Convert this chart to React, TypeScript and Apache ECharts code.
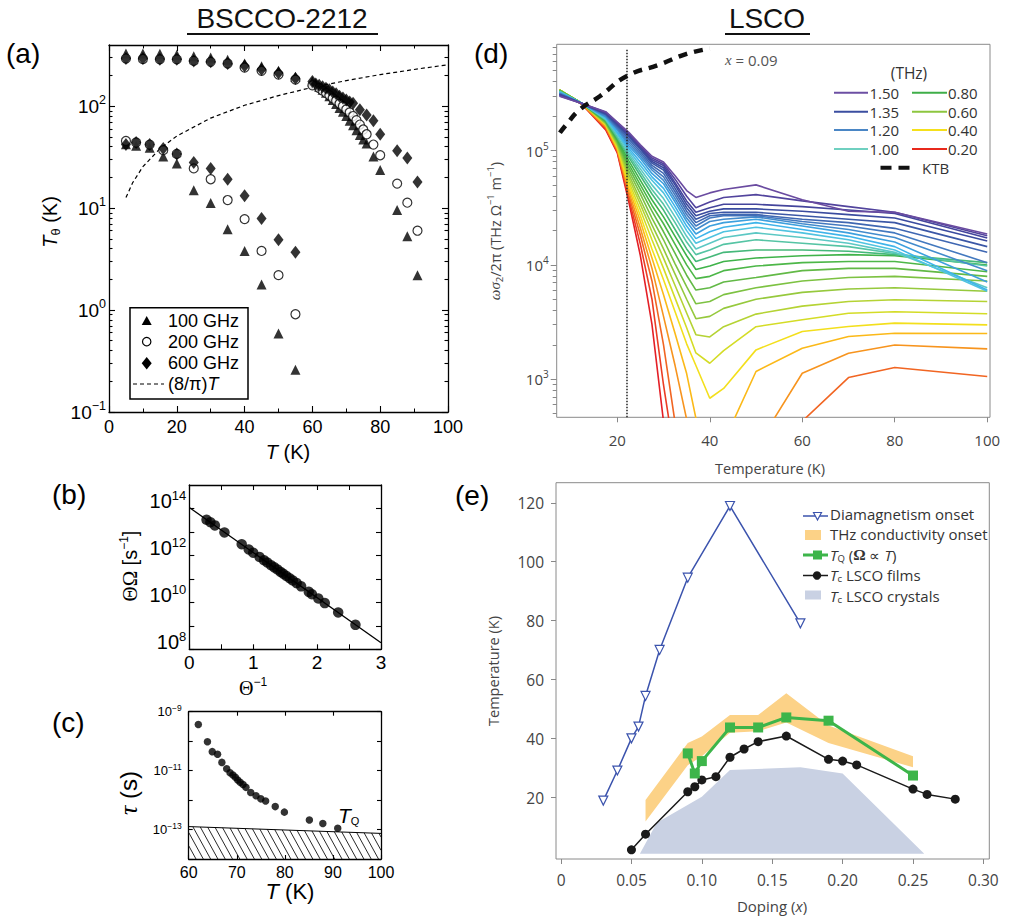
import React, { useEffect, useRef } from "react";
import * as echarts from "echarts";

const ARIAL = '"Liberation Sans", Arial, Helvetica, sans-serif';
const SERIF = '"Liberation Serif", "DejaVu Serif", serif';
const HUM = '"Open Sans", "Noto Sans", sans-serif';

// ---------------- Panel (a): T_theta vs T (BSCCO) ----------------
const A_TRI_UP_T = [5, 10, 15, 20, 25, 30, 35, 40, 45, 50, 55, 60, 61, 62, 63, 64, 65, 66, 67, 68, 69, 70, 71, 72, 73, 74, 75, 76, 78, 80, 85, 88, 91];
const A_TRI_UP_V = [328, 328, 326, 320, 309, 300, 286, 262, 246, 222, 194, 175, 165, 155, 145, 135, 125, 115, 105, 96, 88, 80, 72, 65, 58, 52, 47, 43, 32, 23.6, 9.6, 5.3, 2.2];
const A_TRI_LO_T = [5, 8, 12, 16, 20, 25, 30, 35, 40, 45, 50, 55];
const A_TRI_LO_V = [42.4, 41, 39, 32, 27.4, 15, 11.2, 6.2, 3.8, 1.78, 0.59, 0.26];

const A_CIR_UP_T = [5, 10, 15, 20, 25, 30, 35, 40, 45, 50, 55, 60, 62, 63, 64, 65, 66, 67, 68, 69, 70, 71, 72, 73, 74, 75, 76, 78, 80, 85, 88, 91];
const A_CIR_UP_V = [293, 290, 288, 288, 278, 272, 262, 239, 222, 204, 182, 160, 150, 142, 135, 128, 120, 113, 106, 100, 93, 87, 80, 73, 66, 59, 53, 42, 33, 17.4, 11.3, 6];
const A_CIR_LO_T = [5, 8, 12, 16, 20, 25, 30, 35, 40, 45, 50, 55];
const A_CIR_LO_V = [45.6, 44, 42, 37, 34, 24.5, 19.2, 12, 7.8, 3.8, 2.2, 0.91];

const A_DIA_UP_T = [5, 10, 15, 20, 25, 30, 35, 40, 45, 50, 55, 60, 61, 62, 63, 64, 65, 66, 67, 68, 69, 70, 71, 72, 74, 76, 78, 80, 85, 88, 91];
const A_DIA_UP_V = [293, 293, 288, 288, 278, 272, 262, 247, 229, 212, 187, 175, 165, 160, 155, 150, 145, 138, 132, 125, 120, 115, 110, 107, 92, 82, 72, 53, 36.5, 31, 18];
const A_DIA_LO_T = [5, 8, 12, 16, 20, 25, 30, 35, 40, 45, 50, 55];
const A_DIA_LO_V = [42, 44, 42, 38.5, 34, 28, 24.5, 19.2, 13.2, 7.9, 4.9, 3.7];

const A_LINE_T = [5, 7, 10, 15, 20, 30, 40, 50, 60, 70, 80, 90, 100];
const A_LINE_V = [12.7, 17.8, 25.5, 38.2, 50.9, 76.4, 102, 127, 153, 178, 204, 229, 255];

const A_MAJOR = [0.1, 1, 10, 100];
const A_MINOR = [0.2, 0.3, 0.4, 0.5, 0.6, 0.7, 0.8, 0.9, 2, 3, 4, 5, 6, 7, 8, 9, 20, 30, 40, 50, 60, 70, 80, 90, 200, 300];

// ---------------- Panel (b): Theta*Omega vs 1/Theta ----------------
const B_X = [0.27, 0.33, 0.40, 0.55, 0.82, 0.93, 1.00, 1.10, 1.17, 1.22, 1.28, 1.33, 1.38, 1.43, 1.47, 1.52, 1.57, 1.62, 1.68, 1.75, 1.87, 1.92, 2.02, 2.12, 2.33, 2.60];
const B_Y = [3.3e13, 2.6e13, 1.9e13, 9.5e12, 3.0e12, 1.8e12, 1.3e12, 8.5e11, 6.2e11, 5.0e11, 3.8e11, 3.1e11, 2.5e11, 1.95e11, 1.66e11, 1.32e11, 1.07e11, 8.5e10, 6.6e10, 4.8e10, 2.8e10, 2.2e10, 1.45e10, 9.3e9, 3.7e9, 1.1e9];
const B_FIT_X = [0, 3];
const B_FIT_Y = [1.1e14, 1.9e8];
const B_TICKS = [1e8, 1e9, 1e10, 1e11, 1e12, 1e13, 1e14, 1e15];
const B_LABELS = [1e8, 1e10, 1e12, 1e14];

// ---------------- Panel (c): tau vs T ----------------
const C_T = [62.0, 63.9, 64.9, 66.0, 66.9, 67.9, 68.6, 69.2, 69.7, 70.2, 70.7, 71.3, 71.9, 72.9, 74.0, 75.0, 76.0, 78.0, 79.9, 85.1, 87.9, 91.0];
const C_TAU = [3.7e-10, 9.6e-11, 4.4e-11, 3.6e-11, 1.9e-11, 1.15e-11, 8.5e-12, 7.1e-12, 5.9e-12, 4.8e-12, 4.0e-12, 3.4e-12, 2.7e-12, 1.8e-12, 1.4e-12, 1.1e-12, 9.3e-13, 6.0e-13, 3.9e-13, 2.1e-13, 1.6e-13, 1.1e-13];
const C_LIMIT_T = [60, 100];
const C_LIMIT_TAU = [1.26e-13, 7.4e-14];
const C_TICKS = [1e-14, 1e-13, 1e-12, 1e-11, 1e-10, 1e-9];
const C_LABELS = [1e-13, 1e-11, 1e-9];

// ---------------- Panel (d): LSCO omega*sigma2/2pi vs T ----------------
// temperatures (K) and log10(omega sigma2 / 2 pi) for each frequency curve
const D_T = [7.5, 12.5, 17.5, 20, 22.5, 25, 27.5, 30, 32.5, 35, 37, 40, 43, 50, 60, 70, 80, 100];
const L020 = [5.53, 5.40, 5.18, 4.98, 4.55, 4.08, 3.48, 2.63, 2.0];
const L025 = [5.53, 5.40, 5.19, 4.99, 4.58, 4.18, 3.70, 2.95, 2.3, 1.8];
const L030 = [5.53, 5.40, 5.20, 5.00, 4.61, 4.26, 3.86, 3.30, 2.62, 2.2, 1.9, 1.7, 1.6, 1.9, 2.633, 3.015, 3.103, 3.024];
const L035 = [5.53, 5.40, 5.21, 5.01, 4.64, 4.32, 3.97, 3.55, 3.12, 2.65, 2.35, 2.0, 1.9, 2.4, 3.053, 3.228, 3.30, 3.266];
const L040 = [5.53, 5.41, 5.22, 5.02, 4.67, 4.38, 4.06, 3.74, 3.40, 3.05, 2.66, 2.35, 2.45, 3.068, 3.272, 3.374, 3.403, 3.40];
const L045 = [5.53, 5.41, 5.225, 5.03, 4.70, 4.43, 4.14, 3.87, 3.59, 3.31, 3.12, 2.834, 2.92, 3.257, 3.418, 3.462, 3.491, 3.476];
const L050 = [5.53, 5.41, 5.23, 5.04, 4.73, 4.48, 4.22, 3.97, 3.71, 3.45, 3.23, 3.14, 3.25, 3.46, 3.52, 3.578, 3.59, 3.573];
const L055 = [5.53, 5.41, 5.235, 5.05, 4.76, 4.53, 4.29, 4.06, 3.82, 3.58, 3.39, 3.37, 3.46, 3.57, 3.64, 3.68, 3.695, 3.68];
const L060 = [5.53, 5.41, 5.24, 5.06, 4.79, 4.57, 4.35, 4.14, 3.92, 3.70, 3.53, 3.55, 3.62, 3.70, 3.76, 3.79, 3.80, 3.77];
const L065 = [5.53, 5.41, 5.245, 5.07, 4.82, 4.62, 4.41, 4.22, 4.01, 3.81, 3.66, 3.68, 3.74, 3.80, 3.86, 3.89, 3.90, 3.86];
const L070 = [5.525, 5.41, 5.25, 5.08, 4.85, 4.66, 4.47, 4.29, 4.10, 3.91, 3.78, 3.80, 3.85, 3.89, 3.95, 3.97, 3.97, 3.90];
const L075 = [5.525, 5.41, 5.255, 5.09, 4.88, 4.70, 4.52, 4.36, 4.18, 4.00, 3.88, 3.90, 3.95, 3.99, 4.02, 4.03, 4.03, 3.94];
const L080 = [5.52, 5.41, 5.26, 5.10, 4.91, 4.74, 4.57, 4.42, 4.25, 4.08, 3.96, 3.99, 4.03, 4.06, 4.08, 4.09, 4.08, 4.00];
const L085 = [5.52, 5.41, 5.265, 5.11, 4.94, 4.78, 4.62, 4.48, 4.31, 4.14, 4.03, 4.07, 4.11, 4.13, 4.13, 4.12, 4.09, 4.02];
const L090 = [5.52, 5.41, 5.27, 5.12, 4.96, 4.81, 4.66, 4.53, 4.37, 4.20, 4.09, 4.13, 4.18, 4.22, 4.19, 4.16, 4.10, 3.99];
const L095 = [5.515, 5.41, 5.275, 5.14, 4.98, 4.84, 4.70, 4.58, 4.42, 4.25, 4.14, 4.19, 4.24, 4.28, 4.24, 4.19, 4.11, 3.80];
const L100 = [5.51, 5.41, 5.28, 5.15, 5.00, 4.87, 4.74, 4.63, 4.47, 4.30, 4.19, 4.24, 4.29, 4.33, 4.28, 4.22, 4.13, 3.77];
const L105 = [5.51, 5.41, 5.29, 5.16, 5.02, 4.90, 4.77, 4.67, 4.51, 4.34, 4.23, 4.29, 4.33, 4.37, 4.31, 4.25, 4.16, 3.78];
const L110 = [5.505, 5.41, 5.295, 5.18, 5.04, 4.93, 4.80, 4.71, 4.55, 4.38, 4.27, 4.34, 4.37, 4.40, 4.34, 4.28, 4.20, 3.85];
const L115 = [5.50, 5.41, 5.30, 5.19, 5.06, 4.95, 4.83, 4.74, 4.58, 4.41, 4.31, 4.38, 4.40, 4.42, 4.36, 4.31, 4.24, 3.95];
const L120 = [5.50, 5.41, 5.31, 5.20, 5.08, 4.97, 4.85, 4.77, 4.61, 4.44, 4.34, 4.41, 4.43, 4.43, 4.38, 4.34, 4.28, 4.02];
const L125 = [5.495, 5.41, 5.315, 5.21, 5.10, 4.99, 4.87, 4.80, 4.64, 4.47, 4.37, 4.43, 4.44, 4.44, 4.40, 4.37, 4.32, 4.11];
const L130 = [5.49, 5.41, 5.32, 5.22, 5.12, 5.01, 4.89, 4.83, 4.67, 4.50, 4.40, 4.45, 4.46, 4.46, 4.43, 4.40, 4.37, 4.16];
const L135 = [5.49, 5.41, 5.325, 5.23, 5.13, 5.02, 4.905, 4.85, 4.70, 4.53, 4.43, 4.47, 4.49, 4.49, 4.47, 4.44, 4.41, 4.21];
const L140 = [5.485, 5.41, 5.33, 5.24, 5.14, 5.03, 4.92, 4.87, 4.72, 4.56, 4.46, 4.50, 4.53, 4.53, 4.51, 4.48, 4.45, 4.235];
const L145 = [5.48, 5.41, 5.335, 5.245, 5.15, 5.04, 4.935, 4.885, 4.75, 4.60, 4.50, 4.55, 4.59, 4.615, 4.56, 4.51, 4.46, 4.256];
const L150 = [5.475, 5.41, 5.34, 5.25, 5.16, 5.05, 4.95, 4.90, 4.78, 4.65, 4.59, 4.63, 4.66, 4.70, 4.57, 4.47, 4.46, 4.27];
const D_CURVES = [L020, L025, L030, L035, L040, L045, L050, L055, L060, L065, L070, L075, L080, L085, L090, L095, L100, L105, L110, L115, L120, L125, L130, L135, L140, L145, L150];
const D_FREQ = ["0.20", "0.25", "0.30", "0.35", "0.40", "0.45", "0.50", "0.55", "0.60", "0.65", "0.70", "0.75", "0.80", "0.85", "0.90", "0.95", "1.00", "1.05", "1.10", "1.15", "1.20", "1.25", "1.30", "1.35", "1.40", "1.45", "1.50"];
const D_COLORS = ["#e41f26", "#eb3c24", "#f16522", "#f7941e", "#fbb918", "#f3df1c", "#d4dc26", "#b5d334", "#96c93d", "#7dc242", "#62b946", "#4db748", "#3fb34a", "#45b87a", "#55c4a4", "#5cc8c4", "#4fc3e0", "#3fb4ea", "#3da0de", "#428bcc", "#4379bf", "#3f67b2", "#3b57a6", "#3a4b9f", "#44459c", "#52449d", "#6a4ba0"];
const D_KTB_T = [7.6, 9, 11.9, 16.3, 22, 29.2, 35, 40];
const D_KTB_V = [1.43e5, 1.69e5, 2.28e5, 3.0e5, 4.47e5, 5.66e5, 7.0e5, 7.8e5];
const D_DOT_T = [22.1, 22.1];
const D_DOT_V = [465, 7.6e5];
const D_MAJOR = [1e3, 1e4, 1e5];
const D_MINOR = [500, 600, 700, 800, 900, 2e3, 3e3, 4e3, 5e3, 6e3, 7e3, 8e3, 9e3, 2e4, 3e4, 4e4, 5e4, 6e4, 7e4, 8e4, 9e4, 2e5, 3e5, 4e5, 5e5, 6e5, 7e5, 8e5];
const D_XTICKS = [20, 40, 60, 80, 100];
const D_LEG_L = ["1.50", "1.35", "1.20", "1.00"];
const D_LEG_L_C = ["#6c4fa3", "#3b4ea0", "#4a86c5", "#6fd0c0"];
const D_LEG_R = ["0.80", "0.60", "0.40", "0.20"];
const D_LEG_R_C = ["#3fae49", "#8dc63f", "#f5e01b", "#e8291c"];

// ---------------- Panel (e): phase diagram ----------------
const E_DIA_X = [0.03, 0.04, 0.05, 0.055, 0.06, 0.07, 0.09, 0.12, 0.17];
const E_DIA_T = [19.0, 29.2, 40.1, 44.1, 54.5, 70.1, 94.6, 118.9, 79.1];
const E_TQ_X = [0.09, 0.095, 0.10, 0.12, 0.14, 0.16, 0.19, 0.25];
const E_TQ_T = [35.0, 28.2, 32.4, 43.8, 43.8, 47.2, 46.1, 27.5];
const E_FILM_X = [0.05, 0.06, 0.09, 0.095, 0.10, 0.11, 0.12, 0.13, 0.14, 0.16, 0.19, 0.20, 0.21, 0.25, 0.26, 0.28];
const E_FILM_T = [2.3, 7.6, 22.0, 23.7, 26.0, 27.1, 33.7, 36.5, 39.0, 40.9, 33.0, 32.4, 31.1, 22.9, 21.1, 19.5];
const E_BAND_X = [0.06, 0.09, 0.10, 0.12, 0.14, 0.16, 0.19, 0.25];
const E_BAND_HI = [19.2, 38.5, 40.7, 48.0, 48.0, 55.4, 44.5, 34.0];
const E_BAND_LO = [11.9, 31.0, 34.0, 42.0, 42.5, 45.5, 38.5, 30.3];
const E_CRYS_X = [0.056, 0.068, 0.10, 0.12, 0.17, 0.20, 0.258];
const E_CRYS_T = [1.0, 11.5, 20.3, 29.4, 30.3, 28.2, 1.0];
const E_XTICKS = [0, 0.05, 0.1, 0.15, 0.2, 0.25, 0.3];
const E_YTICKS = [20, 40, 60, 80, 100, 120];

// ---------------- helpers ----------------
const zip = (xs: number[], ys: number[]) => xs.map((x, i) => [x, ys[i]]);
const powLabel = (v: number) => {
  const e = Math.round(Math.log10(v));
  return `{b|10}{s|${e < 0 ? "\u2212" + -e : e}}`;
};
const powRich = (bs: number, ss: number, raise: number, fam: string, color: string) => ({
  b: { fontSize: bs, fontFamily: fam, color, verticalAlign: "middle" },
  s: { fontSize: ss, fontFamily: fam, color, verticalAlign: "middle", padding: [0, 0, raise * 2, 0] },
});
const BL = { show: true, onZero: false, lineStyle: { color: "#000", width: 1.3 } };
const NOLINE = { show: false, onZero: false };
const inTick = (len: number, extra: any = {}) => ({ show: true, inside: true, length: len, lineStyle: { color: "#000", width: 1.1 }, ...extra });
const outTick = (len: number, extra: any = {}) => ({ show: true, inside: false, length: len, lineStyle: { color: "#888", width: 1 }, ...extra });
const NOLAB = { show: false };
const NOSPLIT = { show: false };

const txt = (x: number, y: number, text: string, size: number, fam: string, extra: any = {}, rich: any = undefined, rotation = 0) => ({
  type: "text",
  x,
  y,
  rotation,
  silent: true,
  style: { text, fontSize: size, fontFamily: fam, lineHeight: Math.round(size * 1.05), fill: extra.fill || "#000", align: extra.align || "left", verticalAlign: "middle", fontStyle: extra.fontStyle || "normal", rich },
});

function buildOption(): any {
  // ---- axes ----
  const xAxis: any[] = [
    // 0: (a) bottom
    { gridIndex: 0, type: "value", min: 0, max: 100, interval: 20, position: "bottom", axisLine: BL, axisTick: inTick(6), minorTick: { show: true, splitNumber: 2, length: 3.5, lineStyle: { color: "#000", width: 1 } }, splitLine: NOSPLIT, minorSplitLine: NOSPLIT, axisLabel: { fontFamily: ARIAL, fontSize: 18, lineHeight: 18, color: "#000", margin: 6 } },
    // 1: (a) top
    { gridIndex: 0, type: "value", min: 0, max: 100, interval: 20, position: "top", axisLine: BL, axisTick: inTick(6), minorTick: { show: true, splitNumber: 2, length: 3.5, lineStyle: { color: "#000", width: 1 } }, splitLine: NOSPLIT, minorSplitLine: NOSPLIT, axisLabel: NOLAB },
    // 2: (b) bottom
    { gridIndex: 1, type: "value", min: 0, max: 3, interval: 1, position: "bottom", axisLine: BL, axisTick: inTick(5), minorTick: { show: true, splitNumber: 2, length: 5, lineStyle: { color: "#000", width: 1 } }, splitLine: NOSPLIT, minorSplitLine: NOSPLIT, axisLabel: { fontFamily: ARIAL, fontSize: 19, lineHeight: 19, color: "#000", margin: 4 } },
    // 3: (b) top
    { gridIndex: 1, type: "value", min: 0, max: 3, interval: 1, position: "top", axisLine: BL, axisTick: inTick(5), minorTick: { show: true, splitNumber: 2, length: 5, lineStyle: { color: "#000", width: 1 } }, splitLine: NOSPLIT, minorSplitLine: NOSPLIT, axisLabel: NOLAB },
    // 4: (c) bottom
    { gridIndex: 2, type: "value", min: 60, max: 100, interval: 10, position: "bottom", axisLine: BL, axisTick: inTick(4), splitLine: NOSPLIT, axisLabel: { fontFamily: ARIAL, fontSize: 16, lineHeight: 16, color: "#000", margin: 5 } },
    // 5: (c) top
    { gridIndex: 2, type: "value", min: 60, max: 100, interval: 10, position: "top", axisLine: BL, axisTick: inTick(4), splitLine: NOSPLIT, axisLabel: NOLAB },
    // 6: (d) bottom
    { gridIndex: 3, type: "value", min: 6.9, max: 100.6, position: "bottom", axisLine: NOLINE, axisTick: outTick(5, { customValues: D_XTICKS }), splitLine: NOSPLIT, axisLabel: { customValues: D_XTICKS, fontFamily: HUM, fontSize: 15, lineHeight: 16, color: "#444", margin: 15 } },
    // 7: (e) bottom
    { gridIndex: 4, type: "value", min: -0.0036, max: 0.3042, position: "bottom", axisLine: NOLINE, axisTick: outTick(5, { customValues: E_XTICKS }), splitLine: NOSPLIT, axisLabel: { customValues: E_XTICKS, formatter: (v: number) => (Math.abs(v) < 1e-9 ? "0" : v.toFixed(2)), fontFamily: HUM, fontSize: 15.5, lineHeight: 16, color: "#444", margin: 13 } },
  ];

  const yAxis: any[] = [
    // 0: (a) left major
    { gridIndex: 0, type: "log", logBase: 10, min: 0.1, max: 398, position: "left", axisLine: BL, axisTick: inTick(6, { customValues: A_MAJOR }), splitLine: NOSPLIT, axisLabel: { customValues: A_MAJOR, formatter: powLabel, rich: powRich(19, 12.5, 6, ARIAL, "#000"), margin: 3 } },
    // 1: (a) left minor
    { gridIndex: 0, type: "log", logBase: 10, min: 0.1, max: 398, position: "left", axisLine: NOLINE, axisTick: inTick(3.5, { customValues: A_MINOR }), splitLine: NOSPLIT, axisLabel: NOLAB },
    // 2: (a) right major
    { gridIndex: 0, type: "log", logBase: 10, min: 0.1, max: 398, position: "right", axisLine: BL, axisTick: inTick(6, { customValues: A_MAJOR }), splitLine: NOSPLIT, axisLabel: NOLAB },
    // 3: (a) right minor
    { gridIndex: 0, type: "log", logBase: 10, min: 0.1, max: 398, position: "right", axisLine: NOLINE, axisTick: inTick(3.5, { customValues: A_MINOR }), splitLine: NOSPLIT, axisLabel: NOLAB },
    // 4: (b) left
    { gridIndex: 1, type: "log", logBase: 10, min: 1e8, max: 1e15, position: "left", axisLine: BL, axisTick: inTick(5, { customValues: B_TICKS }), splitLine: NOSPLIT, axisLabel: { customValues: B_LABELS, formatter: powLabel, rich: powRich(20, 13, 6, ARIAL, "#000"), margin: 3, padding: [0, 0, 14, 0] } },
    // 5: (b) right
    { gridIndex: 1, type: "log", logBase: 10, min: 1e8, max: 1e15, position: "right", axisLine: BL, axisTick: inTick(5, { customValues: B_TICKS }), splitLine: NOSPLIT, axisLabel: NOLAB },
    // 6: (c) left
    { gridIndex: 2, type: "log", logBase: 10, min: 1e-14, max: 1e-9, position: "left", axisLine: BL, axisTick: inTick(4, { customValues: C_TICKS }), splitLine: NOSPLIT, axisLabel: { customValues: C_LABELS, formatter: powLabel, rich: powRich(13, 8.5, 4, ARIAL, "#000"), margin: 7 } },
    // 7: (c) right
    { gridIndex: 2, type: "log", logBase: 10, min: 1e-14, max: 1e-9, position: "right", axisLine: BL, axisTick: inTick(4, { customValues: C_TICKS }), splitLine: NOSPLIT, axisLabel: NOLAB },
    // 8: (d) left major
    { gridIndex: 3, type: "log", logBase: 10, min: 465, max: 8.5e5, position: "left", axisLine: NOLINE, axisTick: outTick(6, { customValues: D_MAJOR }), splitLine: NOSPLIT, axisLabel: { customValues: D_MAJOR, formatter: powLabel, rich: powRich(15, 10, 5, HUM, "#444"), margin: 8 } },
    // 9: (d) left minor
    { gridIndex: 3, type: "log", logBase: 10, min: 465, max: 8.5e5, position: "left", axisLine: NOLINE, axisTick: outTick(4, { customValues: D_MINOR }), splitLine: NOSPLIT, axisLabel: NOLAB },
    // 10: (e) left
    { gridIndex: 4, type: "value", min: -0.8, max: 126.8, position: "left", axisLine: NOLINE, axisTick: outTick(5, { customValues: E_YTICKS }), splitLine: NOSPLIT, axisLabel: { customValues: E_YTICKS, fontFamily: HUM, fontSize: 15.5, color: "#444", margin: 12 } },
  ];

  const grid = [
    { left: 109, top: 45, width: 339, height: 367 },
    { left: 189.3, top: 485, width: 191.7, height: 164.3 },
    { left: 188.7, top: 711.7, width: 192.3, height: 147.3 },
    { left: 556.7, top: 44.3, width: 433.3, height: 373, show: true, borderColor: "#8a8a8a", borderWidth: 1 },
    { left: 556, top: 482.7, width: 433.3, height: 376.3, show: true, borderColor: "#8a8a8a", borderWidth: 1 },
  ];

  const series: any[] = [];

  // ----- (a) -----
  series.push({ type: "line", name: "(8/π)T", xAxisIndex: 0, yAxisIndex: 0, data: zip(A_LINE_T, A_LINE_V), symbol: "none", smooth: false, lineStyle: { color: "#000", width: 1.2, type: [4, 3] }, z: 2 });
  series.push({ type: "scatter", name: "100 GHz", xAxisIndex: 0, yAxisIndex: 0, data: zip(A_TRI_UP_T, A_TRI_UP_V).concat(zip(A_TRI_LO_T, A_TRI_LO_V)), symbol: "triangle", symbolSize: 10, itemStyle: { color: "#000" }, z: 3 });
  series.push({ type: "scatter", name: "200 GHz", xAxisIndex: 0, yAxisIndex: 0, data: zip(A_CIR_UP_T, A_CIR_UP_V).concat(zip(A_CIR_LO_T, A_CIR_LO_V)), symbol: "circle", symbolSize: 9, itemStyle: { color: "#fff", borderColor: "#000", borderWidth: 1.2 }, z: 4 });
  series.push({ type: "scatter", name: "600 GHz", xAxisIndex: 0, yAxisIndex: 0, data: zip(A_DIA_UP_T, A_DIA_UP_V).concat(zip(A_DIA_LO_T, A_DIA_LO_V)), symbol: "diamond", symbolSize: [10, 13], itemStyle: { color: "#000" }, z: 5 });

  // ----- (b) -----
  series.push({ type: "line", name: "fit", xAxisIndex: 2, yAxisIndex: 4, data: zip(B_FIT_X, B_FIT_Y), symbol: "none", lineStyle: { color: "#000", width: 1.3 }, z: 2 });
  series.push({ type: "scatter", name: "ΘΩ", xAxisIndex: 2, yAxisIndex: 4, data: zip(B_X, B_Y), symbol: "circle", symbolSize: 10.5, itemStyle: { color: "#000" }, z: 3 });

  // ----- (c) -----
  series.push({
    type: "custom",
    name: "hatch",
    xAxisIndex: 4,
    yAxisIndex: 6,
    silent: true,
    data: [[C_LIMIT_T[0], C_LIMIT_TAU[0]]],
    z: 1,
    renderItem: (_p: any, api: any) => {
      const p0 = api.coord([C_LIMIT_T[0], C_LIMIT_TAU[0]]);
      const p1 = api.coord([C_LIMIT_T[1], C_LIMIT_TAU[1]]);
      const yb = api.coord([C_LIMIT_T[0], 1e-14])[1];
      const left = p0[0], right = p1[0];
      const slope = (p1[1] - p0[1]) / (p1[0] - p0[0]);
      const k = 0.55, step = 7.3;
      const children: any[] = [];
      for (let c = left - k * yb - step; c <= right - k * p0[1] + step; c += step) {
        let yt = (p0[1] + (c - p0[0]) * slope) / (1 - k * slope);
        let xt = c + k * yt;
        let yB = yb, xB = c + k * yb;
        if (xt < left) { xt = left; yt = (left - c) / k; }
        if (xB > right) { xB = right; yB = (right - c) / k; }
        if (yt >= yB || xt > right || xB < left) continue;
        children.push({ type: "line", shape: { x1: xt, y1: yt, x2: xB, y2: yB }, style: { stroke: "#111", lineWidth: 0.9 } });
      }
      return { type: "group", children };
    },
  });
  series.push({ type: "line", name: "limit", xAxisIndex: 4, yAxisIndex: 6, data: zip(C_LIMIT_T, C_LIMIT_TAU), symbol: "none", lineStyle: { color: "#000", width: 1 }, z: 2 });
  series.push({ type: "scatter", name: "τ", xAxisIndex: 4, yAxisIndex: 6, data: zip(C_T, C_TAU), symbol: "circle", symbolSize: 7.5, itemStyle: { color: "#000" }, z: 3 });

  // ----- (d) -----
  D_CURVES.forEach((arr, k) => {
    series.push({
      type: "line",
      name: D_FREQ[k] + " THz",
      xAxisIndex: 6,
      yAxisIndex: 8,
      data: arr.map((e, i) => [D_T[i], Math.pow(10, e)]),
      symbol: "none",
      smooth: false,
      lineStyle: { color: D_COLORS[k], width: 1.6 },
      z: 2,
    });
  });
  series.push({ type: "line", name: "dotted", xAxisIndex: 6, yAxisIndex: 8, data: zip(D_DOT_T, D_DOT_V), symbol: "none", lineStyle: { color: "#222", width: 1.5, type: [1.5, 1.5] }, z: 3 });
  series.push({ type: "line", name: "KTB", xAxisIndex: 6, yAxisIndex: 8, data: zip(D_KTB_T, D_KTB_V), symbol: "none", smooth: true, lineStyle: { color: "#111", width: 4.5, type: [9, 7], cap: "butt" }, z: 4 });

  // ----- (e) -----
  series.push({
    type: "custom", name: "Tc LSCO crystals", xAxisIndex: 7, yAxisIndex: 10, silent: true, data: [[E_CRYS_X[0], E_CRYS_T[0]]], z: 1,
    renderItem: (_p: any, api: any) => ({ type: "polygon", shape: { points: E_CRYS_X.map((x, i) => api.coord([x, E_CRYS_T[i]])) }, style: { fill: "#c9d1e3" } }),
  });
  series.push({
    type: "custom", name: "THz conductivity onset", xAxisIndex: 7, yAxisIndex: 10, silent: true, data: [[E_BAND_X[0], E_BAND_HI[0]]], z: 2,
    renderItem: (_p: any, api: any) => {
      const pts: any[] = E_BAND_X.map((x, i) => api.coord([x, E_BAND_HI[i]]));
      for (let i = E_BAND_X.length - 1; i >= 0; i--) pts.push(api.coord([E_BAND_X[i], E_BAND_LO[i]]));
      return { type: "polygon", shape: { points: pts }, style: { fill: "#fcd287" } };
    },
  });
  series.push({ type: "line", name: "Tc LSCO films", xAxisIndex: 7, yAxisIndex: 10, data: zip(E_FILM_X, E_FILM_T), symbol: "circle", symbolSize: 9, itemStyle: { color: "#1a1a1a" }, lineStyle: { color: "#1a1a1a", width: 1.5 }, z: 3 });
  series.push({ type: "line", name: "TQ", xAxisIndex: 7, yAxisIndex: 10, data: zip(E_TQ_X, E_TQ_T), symbol: "rect", symbolSize: 10, itemStyle: { color: "#3db54a" }, lineStyle: { color: "#3db54a", width: 3 }, z: 4 });
  series.push({ type: "line", name: "Diamagnetism onset", xAxisIndex: 7, yAxisIndex: 10, data: zip(E_DIA_X, E_DIA_T), symbol: "triangle", symbolRotate: 180, symbolSize: 9, itemStyle: { color: "#fff", borderColor: "#3b53ad", borderWidth: 1.2 }, lineStyle: { color: "#3b53ad", width: 1.5 }, z: 5 });

  // ---- graphic: titles, axis names, legends ----
  const g: any[] = [];
  g.push(txt(282, 18, "BSCCO-2212", 28, ARIAL, { align: "center", fill: "#111" }));
  g.push({ type: "line", silent: true, shape: { x1: 187, y1: 34, x2: 378, y2: 34 }, style: { stroke: "#111", lineWidth: 2 } });
  g.push(txt(767, 18, "LSCO", 28, ARIAL, { align: "center", fill: "#111" }));
  g.push({ type: "line", silent: true, shape: { x1: 725, y1: 34, x2: 810, y2: 34 }, style: { stroke: "#111", lineWidth: 2 } });

  g.push(txt(6, 53, "(a)", 28, ARIAL));
  g.push(txt(52, 494, "(b)", 28, ARIAL));
  g.push(txt(52, 722, "(c)", 28, ARIAL));
  g.push(txt(474, 53, "(d)", 28, ARIAL));
  g.push(txt(455, 495, "(e)", 28, ARIAL));

  const itA = (s: number) => ({ i: { fontStyle: "italic", fontSize: s, fontFamily: ARIAL, fill: "#000" } });
  // (a) axis titles
  g.push(txt(288, 452, "{i|T} (K)", 20, ARIAL, { align: "center" }, itA(20)));
  g.push(txt(50, 222, "{i|T}{sub|θ} (K)", 20, ARIAL, { align: "center" }, { ...itA(20), sub: { fontSize: 13, fontFamily: ARIAL, fill: "#000", padding: [10, 0, 0, 0] } }, Math.PI / 2));
  // (a) legend
  g.push({ type: "rect", silent: true, shape: { x: 130, y: 307.7, width: 118, height: 91.3 }, style: { fill: "#fff", stroke: "#000", lineWidth: 1.5 } });
  g.push({ type: "polygon", silent: true, shape: { points: [[141.7, 325], [151.7, 325], [146.7, 316]] }, style: { fill: "#000" } });
  g.push({ type: "circle", silent: true, shape: { cx: 146.7, cy: 341.7, r: 4.2 }, style: { fill: "#fff", stroke: "#000", lineWidth: 1.2 } });
  g.push({ type: "polygon", silent: true, shape: { points: [[146.7, 357], [151.7, 363.3], [146.7, 369.6], [141.7, 363.3]] }, style: { fill: "#000" } });
  g.push({ type: "line", silent: true, shape: { x1: 133, y1: 384, x2: 164, y2: 384 }, style: { stroke: "#000", lineWidth: 1.2, lineDash: [4, 3] } });
  g.push(txt(168, 321, "100 GHz", 18, ARIAL));
  g.push(txt(168, 342, "200 GHz", 18, ARIAL));
  g.push(txt(168, 363, "600 GHz", 18, ARIAL));
  g.push(txt(168, 384, "(8/π){i|T}", 18, ARIAL, {}, itA(18)));

  // (b) axis titles
  g.push(txt(253, 688, "Θ{s|−1}", 20, SERIF, { align: "center" }, { s: { fontSize: 12, fontFamily: ARIAL, fill: "#000", padding: [0, 0, 12, 0] } }));
  g.push(txt(130, 566, "ΘΩ {a|[s}{s|−1}{a|]}", 21, SERIF, { align: "center" }, { a: { fontSize: 20, fontFamily: ARIAL, fill: "#000" }, s: { fontSize: 12, fontFamily: ARIAL, fill: "#000", padding: [0, 0, 12, 0] } }, Math.PI / 2));

  // (c) axis titles and T_Q label
  g.push(txt(290, 891, "{i|T} (K)", 22, ARIAL, { align: "center" }, itA(22)));
  g.push(txt(128, 793, "{g|τ} (s)", 24, ARIAL, { align: "center" }, { g: { fontStyle: "italic", fontSize: 26, fontFamily: SERIF, fill: "#000" } }, Math.PI / 2));
  g.push(txt(338, 815, "{i|T}{sub|Q}", 20, ARIAL, {}, { ...itA(21), sub: { fontSize: 11, fontFamily: ARIAL, fill: "#000", padding: [12, 0, 0, 0] } }));

  // (d) axis titles, annotation and legend
  const G4 = "#444";
  g.push(txt(770, 468, "Temperature (K)", 14.5, HUM, { align: "center", fill: G4 }));
  g.push(
    txt(495, 231, "{i|ωσ}{sub|2}/2π (THz Ω{sup|−1} m{sup|−1})", 14.5, HUM, { align: "center", fill: G4 }, {
      i: { fontStyle: "italic", fontSize: 15, fontFamily: SERIF, fill: G4 },
      sub: { fontSize: 9.5, fontFamily: HUM, fill: G4, padding: [8, 0, 0, 0] },
      sup: { fontSize: 9.5, fontFamily: HUM, fill: G4, padding: [0, 0, 10, 0] },
    }, Math.PI / 2)
  );
  g.push(txt(725, 60, "{i|x} = 0.09", 15, HUM, { fill: "#555" }, { i: { fontStyle: "italic", fontSize: 15, fontFamily: SERIF, fill: "#555" } }));
  g.push(txt(909, 73, "(THz)", 15.5, HUM, { align: "center", fill: "#333" }));
  const rowsY = [92.7, 111.7, 130, 149];
  rowsY.forEach((y, i) => {
    g.push({ type: "line", silent: true, shape: { x1: 834, y1: y, x2: 868, y2: y }, style: { stroke: D_LEG_L_C[i], lineWidth: 2 } });
    g.push(txt(869.5, y, D_LEG_L[i], 15, HUM, { fill: "#333" }));
    g.push({ type: "line", silent: true, shape: { x1: 912, y1: y, x2: 947, y2: y }, style: { stroke: D_LEG_R_C[i], lineWidth: 2 } });
    g.push(txt(948, y, D_LEG_R[i], 15, HUM, { fill: "#333" }));
  });
  g.push({ type: "line", silent: true, shape: { x1: 880.5, y1: 167.7, x2: 909.5, y2: 167.7 }, style: { stroke: "#111", lineWidth: 4, lineDash: [11, 7] } });
  g.push(txt(922, 167.7, "KTB", 15, HUM, { fill: "#333" }));

  // (e) axis titles and legend
  g.push(txt(772, 906, "Doping ({i|x})", 15, HUM, { align: "center", fill: G4 }, { i: { fontStyle: "italic", fontSize: 15, fontFamily: HUM, fill: G4 } }));
  g.push(txt(493, 671, "Temperature (K)", 14.5, HUM, { align: "center", fill: G4 }, undefined, Math.PI / 2));
  const LT = "#333";
  const LF = 15;
  const iE = { fontStyle: "italic", fontSize: LF, fontFamily: HUM, fill: LT };
  const subE = { fontSize: 9.5, fontFamily: HUM, fill: LT, padding: [7, 0, 0, 0] };
  // diamagnetism
  g.push({ type: "line", silent: true, shape: { x1: 803, y1: 516, x2: 828, y2: 516 }, style: { stroke: "#3b53ad", lineWidth: 1.5 } });
  g.push({ type: "polygon", silent: true, shape: { points: [[813.5, 512.5], [821.5, 512.5], [817.5, 520]] }, style: { fill: "#fff", stroke: "#3b53ad", lineWidth: 1.2 } });
  g.push(txt(830, 514, "Diamagnetism onset", LF, HUM, { fill: LT }));
  // THz band
  g.push({ type: "rect", silent: true, shape: { x: 805, y: 530, width: 16, height: 10 }, style: { fill: "#fcd287" } });
  g.push(txt(830, 534, "THz conductivity onset", LF, HUM, { fill: LT }));
  // T_Q
  g.push({ type: "line", silent: true, shape: { x1: 803, y1: 555, x2: 828, y2: 555 }, style: { stroke: "#3db54a", lineWidth: 3 } });
  g.push({ type: "rect", silent: true, shape: { x: 813, y: 550.5, width: 9, height: 9 }, style: { fill: "#3db54a" } });
  g.push(txt(830, 554.5, "{i|T}{sub|Q} ({o|Ω} ∝ {i|T})", LF, HUM, { fill: LT }, { i: iE, sub: subE, o: { fontSize: 15.5, fontWeight: "bold", fontFamily: SERIF, fill: LT } }));
  // films
  g.push({ type: "line", silent: true, shape: { x1: 803, y1: 575.5, x2: 828, y2: 575.5 }, style: { stroke: "#1a1a1a", lineWidth: 1.5 } });
  g.push({ type: "circle", silent: true, shape: { cx: 817, cy: 575.5, r: 4.2 }, style: { fill: "#1a1a1a" } });
  g.push(txt(830, 575, "{i|T}{sub|c} LSCO films", LF, HUM, { fill: LT }, { i: iE, sub: subE }));
  // crystals
  g.push({ type: "rect", silent: true, shape: { x: 805, y: 590.5, width: 16, height: 9 }, style: { fill: "#c9d1e3" } });
  g.push(txt(830, 595.5, "{i|T}{sub|c} LSCO crystals", LF, HUM, { fill: LT }, { i: iE, sub: subE }));

  return {
    animation: false,
    backgroundColor: "#fff",
    grid,
    xAxis,
    yAxis,
    series,
    graphic: g,
  };
}

export default function App() {
  const ref = useRef<HTMLDivElement>(null);
  useEffect(() => {
    if (!ref.current) return;
    const chart = echarts.init(ref.current, null, { renderer: "svg" });
    chart.setOption(buildOption());
    return () => chart.dispose();
  }, []);
  return <div ref={ref} style={{ position: "fixed", left: 0, top: 0, width: 1011, height: 920, background: "#fff" }} />;
}
